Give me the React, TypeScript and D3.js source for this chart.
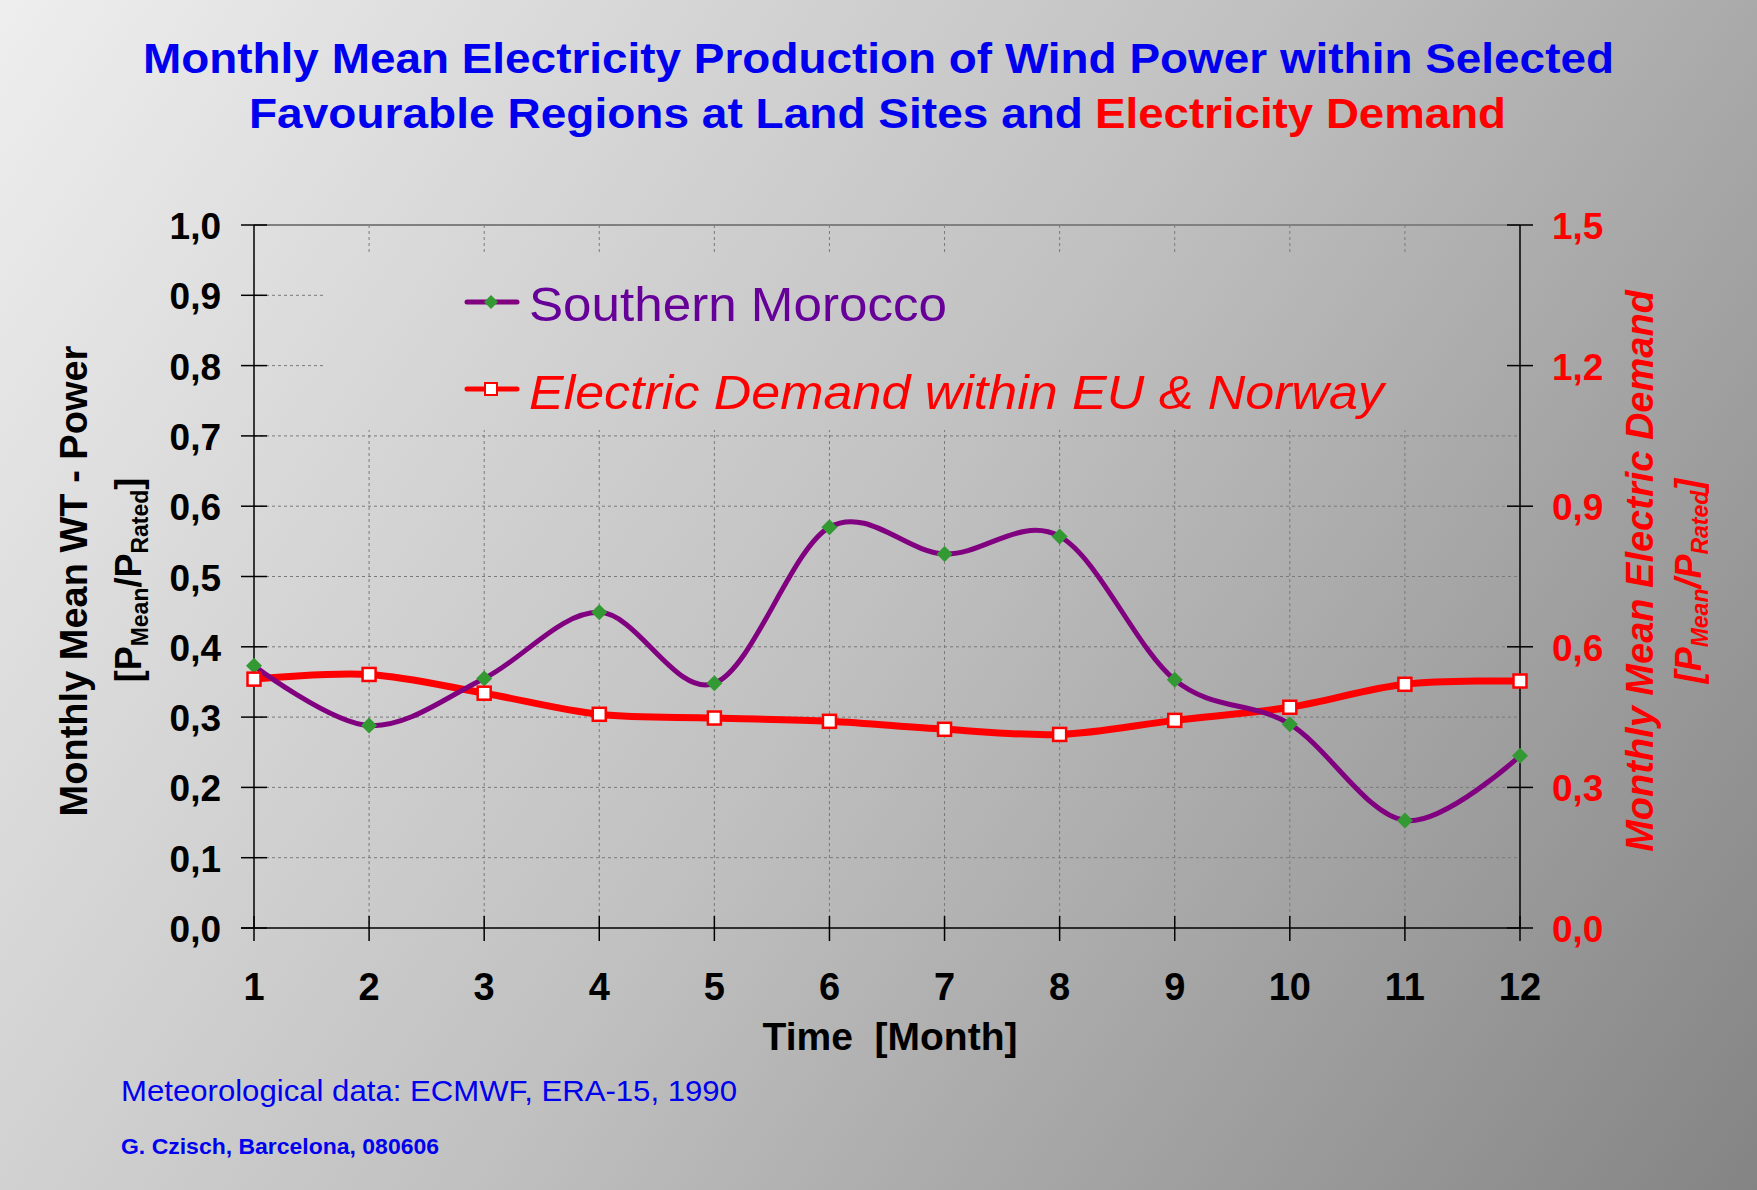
import React from 'react';
import * as d3 from 'd3';

const months = [1, 2, 3, 4, 5, 6, 7, 8, 9, 10, 11, 12];
const moroccoValues = [0.373, 0.288, 0.355, 0.449, 0.348, 0.570, 0.532, 0.557, 0.353, 0.290, 0.153, 0.245];
const demandValues = [0.531, 0.541, 0.501, 0.456, 0.448, 0.441, 0.424, 0.413, 0.443, 0.471, 0.520, 0.527];
const leftTicks = [0, 0.1, 0.2, 0.3, 0.4, 0.5, 0.6, 0.7, 0.8, 0.9, 1.0];
const rightTicks = [0, 0.3, 0.6, 0.9, 1.2, 1.5];
const titleLine1 = 'Monthly Mean Electricity Production of Wind Power within Selected';
const titleLine2a = 'Favourable Regions at Land Sites and';
const titleLine2b = 'Electricity Demand';
const legendMorocco = 'Southern Morocco';
const legendDemand = 'Electric Demand within EU & Norway';
const xTitle = 'Time  [Month]';
const leftTitle = 'Monthly Mean WT - Power';
const rightTitle = 'Monthly Mean Electric Demand';
const footer1 = 'Meteorological data: ECMWF, ERA-15, 1990';
const footer2 = 'G. Czisch, Barcelona, 080606';

const W = 1757;
const H = 1190;
const FONT = "'Liberation Sans', Arial, Helvetica, sans-serif";
const fmt = (v: number) => d3.format('.1f')(v).replace('.', ',');

export default function App() {
  const x = d3.scaleLinear().domain([1, 12]).range([254, 1520]);
  const yL = d3.scaleLinear().domain([0, 1]).range([928, 225]);
  const yR = d3.scaleLinear().domain([0, 1.5]).range([928, 225]);
  const curve = d3.curveCardinal.tension(0);
  const moroccoLine = d3.line<number>().x((_, i) => x(months[i])).y((d) => yL(d)).curve(curve);
  const demandLine = d3.line<number>().x((_, i) => x(months[i])).y((d) => yR(d)).curve(curve);

  const purple = '#800080';
  const green = '#339933';
  const red = '#ff0000';
  const blue = '#0000ee';
  const gridColor = '#7a7a7a';

  const diamond = (cx: number, cy: number, r: number) =>
    `M${cx},${cy - r}L${cx + r},${cy}L${cx},${cy + r}L${cx - r},${cy}Z`;

  return (
    <svg width={W} height={H} style={{ position: 'absolute', left: 0, top: 0 }} fontFamily={FONT}>
      <defs>
        <linearGradient id="bg" gradientUnits="userSpaceOnUse" x1={0} y1={0} x2={W} y2={H}>
          <stop offset="0" stopColor="#eeeeee" />
          <stop offset="0.5" stopColor="#c0c0c0" />
          <stop offset="1" stopColor="#848484" />
        </linearGradient>
      </defs>
      <rect x={0} y={0} width={W} height={H} fill="url(#bg)" />

      {/* Title */}
      <text x={143} y={73} fontSize={43} fontWeight="bold" fill={blue} textLength={1471} lengthAdjust="spacingAndGlyphs">
        {titleLine1}
      </text>
      <text x={249} y={128} fontSize={43} fontWeight="bold" fill={blue} textLength={834} lengthAdjust="spacingAndGlyphs">
        {titleLine2a}
      </text>
      <text x={1095} y={128} fontSize={43} fontWeight="bold" fill={red} textLength={411} lengthAdjust="spacingAndGlyphs">
        {titleLine2b}
      </text>

      {/* Gridlines */}
      {leftTicks.filter((t) => t > 0 && t < 1).map((t) => (
        <line key={'h' + t} x1={x(1)} x2={x(12)} y1={yL(t)} y2={yL(t)} stroke={gridColor} strokeWidth={1} strokeDasharray="3,3" />
      ))}
      {months.filter((m) => m > 1 && m < 12).map((m) => (
        <line key={'v' + m} x1={x(m)} x2={x(m)} y1={yL(1)} y2={yL(0)} stroke={gridColor} strokeWidth={1} strokeDasharray="3,3" />
      ))}
      {/* Legend box covering gridlines */}
      <rect x={323} y={252} width={1519 - 323} height={430 - 252} fill="url(#bg)" />

      {/* Plot borders / axes */}
      <line x1={x(1)} x2={x(12)} y1={yL(1)} y2={yL(1)} stroke="#808080" strokeWidth={2} />
      <line x1={x(1)} x2={x(1)} y1={yL(1)} y2={yL(0)} stroke="#000" strokeWidth={1.5} />
      <line x1={x(12)} x2={x(12)} y1={yL(1)} y2={yL(0)} stroke="#000" strokeWidth={1.5} />
      <line x1={x(1) - 13} x2={x(12)} y1={yL(0)} y2={yL(0)} stroke="#000" strokeWidth={1.5} />

      {/* Left ticks */}
      {leftTicks.map((t) => (
        <g key={'lt' + t}>
          <line x1={x(1) - 13} x2={x(1) + 13} y1={yL(t)} y2={yL(t)} stroke="#000" strokeWidth={1.5} />
          <text x={221} y={yL(t) + 14} fontSize={37} fontWeight="bold" textAnchor="end" fill="#000">{fmt(t)}</text>
        </g>
      ))}
      {/* Right ticks */}
      {rightTicks.map((t) => (
        <g key={'rt' + t}>
          <line x1={x(12) - 13} x2={x(12) + 13} y1={yR(t)} y2={yR(t)} stroke="#000" strokeWidth={1.5} />
          <text x={1552} y={yR(t) + 14} fontSize={37} fontWeight="bold" textAnchor="start" fill={red}>{fmt(t)}</text>
        </g>
      ))}
      {/* X ticks */}
      {months.map((m) => (
        <g key={'xt' + m}>
          <line x1={x(m)} x2={x(m)} y1={yL(0) - 12} y2={yL(0) + 13} stroke="#000" strokeWidth={1.5} />
          <text x={x(m)} y={1000} fontSize={38} fontWeight="bold" textAnchor="middle" fill="#000">{m}</text>
        </g>
      ))}

      {/* Axis titles */}
      <text x={890} y={1050} fontSize={39} fontWeight="bold" textAnchor="middle" fill="#000" style={{ whiteSpace: 'pre' }}>
        {xTitle}
      </text>
      <text transform="translate(87,581) rotate(-90)" fontSize={38} fontWeight="bold" textAnchor="middle" fill="#000">
        {leftTitle}
      </text>
      <text transform="translate(141,580) rotate(-90)" fontSize={36} fontWeight="bold" textAnchor="middle" fill="#000">
        [P<tspan fontSize={23} dy={7}>Mean</tspan><tspan dy={-7}>/P</tspan><tspan fontSize={23} dy={7}>Rated</tspan><tspan dy={-7}>]</tspan>
      </text>
      <text transform="translate(1653,571) rotate(-90)" fontSize={38} fontWeight="bold" fontStyle="italic" textAnchor="middle" fill={red}>
        {rightTitle}
      </text>
      <text transform="translate(1701,581) rotate(-90)" fontSize={36} fontWeight="bold" fontStyle="italic" textAnchor="middle" fill={red}>
        [P<tspan fontSize={23} dy={7}>Mean</tspan><tspan dy={-7}>/P</tspan><tspan fontSize={23} dy={7}>Rated</tspan><tspan dy={-7}>]</tspan>
      </text>

      {/* Series */}
      <path d={demandLine(demandValues) || ''} fill="none" stroke={red} strokeWidth={7} strokeLinejoin="round" />
      <path d={moroccoLine(moroccoValues) || ''} fill="none" stroke={purple} strokeWidth={5} strokeLinejoin="round" />
      {moroccoValues.map((v, i) => (
        <path key={'md' + i} d={diamond(x(months[i]), yL(v), 8)} fill={green} />
      ))}
      {demandValues.map((v, i) => (
        <rect key={'ds' + i} x={x(months[i]) - 6.5} y={yR(v) - 6.5} width={13} height={13} fill="#fff" stroke={red} strokeWidth={2.5} />
      ))}

      {/* Legend */}
      <line x1={467} x2={517} y1={302} y2={302} stroke={purple} strokeWidth={5} strokeLinecap="round" />
      <path d={diamond(491, 302, 7)} fill={green} />
      <text x={529} y={321} fontSize={49} fill="#660099" textLength={418} lengthAdjust="spacingAndGlyphs">{legendMorocco}</text>
      <line x1={467} x2={517} y1={389} y2={389} stroke={red} strokeWidth={5} strokeLinecap="round" />
      <rect x={485} y={383} width={12} height={12} fill="#fff" stroke={red} strokeWidth={2} />
      <text x={529} y={409} fontSize={49} fontStyle="italic" fill={red} textLength={855} lengthAdjust="spacingAndGlyphs">{legendDemand}</text>

      {/* Footer */}
      <text x={121} y={1101} fontSize={30} fill={blue} textLength={616} lengthAdjust="spacingAndGlyphs">{footer1}</text>
      <text x={121} y={1154} fontSize={22} fontWeight="bold" fill={blue} textLength={318} lengthAdjust="spacingAndGlyphs">{footer2}</text>
    </svg>
  );
}
